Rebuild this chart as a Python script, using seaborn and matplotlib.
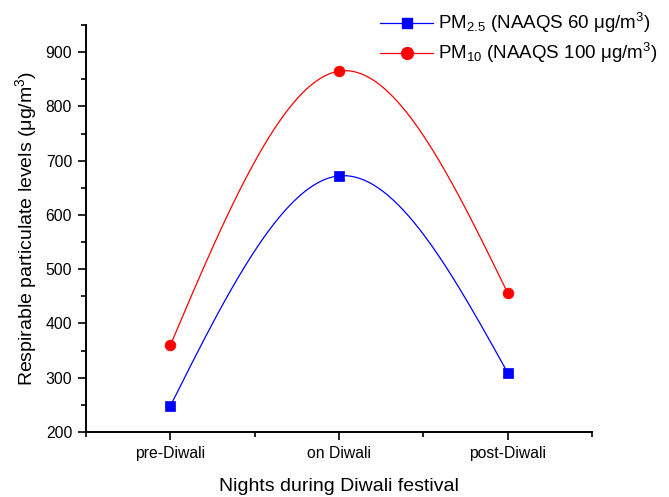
import numpy as np
import pandas as pd
import matplotlib
matplotlib.use("Agg")
import matplotlib.pyplot as plt
from matplotlib.lines import Line2D
from matplotlib.ticker import MultipleLocator, FixedLocator
import seaborn as sns

categories = ["pre-Diwali", "on Diwali", "post-Diwali"]
pm25 = [248, 672, 309]
pm10 = [360, 865, 456]
yticks = [200, 300, 400, 500, 600, 700, 800, 900]

sns.set_theme(style="ticks")
plt.rcParams["font.family"] = ["Liberation Sans", "DejaVu Sans"]
plt.rcParams["mathtext.fontset"] = "custom"
plt.rcParams["mathtext.rm"] = "Liberation Sans"
plt.rcParams["mathtext.it"] = "Liberation Sans:italic"
plt.rcParams["text.color"] = "black"
plt.rcParams["axes.labelcolor"] = "black"


def natural_spline(x, y, n=200):
    x = np.asarray(x, float)
    y = np.asarray(y, float)
    k = len(x)
    h = np.diff(x)
    A = np.zeros((k, k))
    b = np.zeros(k)
    A[0, 0] = 1
    A[-1, -1] = 1
    for i in range(1, k - 1):
        A[i, i - 1] = h[i - 1]
        A[i, i] = 2 * (h[i - 1] + h[i])
        A[i, i + 1] = h[i]
        b[i] = 6 * ((y[i + 1] - y[i]) / h[i] - (y[i] - y[i - 1]) / h[i - 1])
    M = np.linalg.solve(A, b)
    xs = np.linspace(x[0], x[-1], n)
    ys = np.empty_like(xs)
    for j, xv in enumerate(xs):
        i = min(np.searchsorted(x, xv, side="right") - 1, k - 2)
        t0 = x[i + 1] - xv
        t1 = xv - x[i]
        hi = h[i]
        ys[j] = (M[i] * t0 ** 3 / (6 * hi) + M[i + 1] * t1 ** 3 / (6 * hi)
                 + (y[i] / hi - M[i] * hi / 6) * t0
                 + (y[i + 1] / hi - M[i + 1] * hi / 6) * t1)
    return xs, ys


xpos = np.arange(1, len(categories) + 1)
fig = plt.figure(figsize=(6.69, 4.97), dpi=100)
ax = fig.add_axes([0.1286, 0.1308, 0.7564, 0.8189])

for vals, color, marker, ms in [(pm25, "#0000ff", "s", 45), (pm10, "#ff0000", "o", 60)]:
    xs, ys = natural_spline(xpos, vals)
    sns.lineplot(x=xs, y=ys, ax=ax, color=color, linewidth=0.9, sort=False)
    sns.scatterplot(x=xpos, y=vals, ax=ax, color=color, marker=marker, s=ms,
                    edgecolor=color, linewidth=0.5, zorder=5)

ax.set_xlim(0.5, 3.5)
ax.set_ylim(200, 950)
ax.set_xticks(xpos)
ax.set_xticklabels(categories)
ax.xaxis.set_minor_locator(FixedLocator([0.5, 1.5, 2.5, 3.5]))
ax.set_yticks(yticks)
ax.yaxis.set_minor_locator(MultipleLocator(50))
ax.tick_params(axis="both", which="major", direction="out", length=6, width=1.2,
               labelsize=11.3, color="black", labelcolor="black", pad=4)
ax.tick_params(axis="both", which="minor", direction="out", length=3.5, width=1.2,
               color="black")
for s in ["top", "right"]:
    ax.spines[s].set_visible(False)
for s in ["left", "bottom"]:
    ax.spines[s].set_linewidth(1.4)
    ax.spines[s].set_color("black")

ax.set_xlabel("Nights during Diwali festival", fontsize=14, labelpad=12)
ax.set_ylabel("Respirable particulate levels (μg/m$^3$)", fontsize=14, labelpad=5)

handles = [
    Line2D([], [], color="#0000ff", marker="s", markersize=7.5, linewidth=0.9),
    Line2D([], [], color="#ff0000", marker="o", markersize=8.5, linewidth=0.9),
]
labels = ["PM$_{2.5}$ (NAAQS 60 μg/m$^3$)", "PM$_{10}$ (NAAQS 100 μg/m$^3$)"]
fig.legend(handles, labels, loc="upper right", bbox_to_anchor=(1.0, 1.0),
           frameon=False, fontsize=13.5, handlelength=2.8, handletextpad=0.3,
           labelspacing=0.3, borderaxespad=0.3, borderpad=0.3)

fig.savefig("out.png", dpi=100)
